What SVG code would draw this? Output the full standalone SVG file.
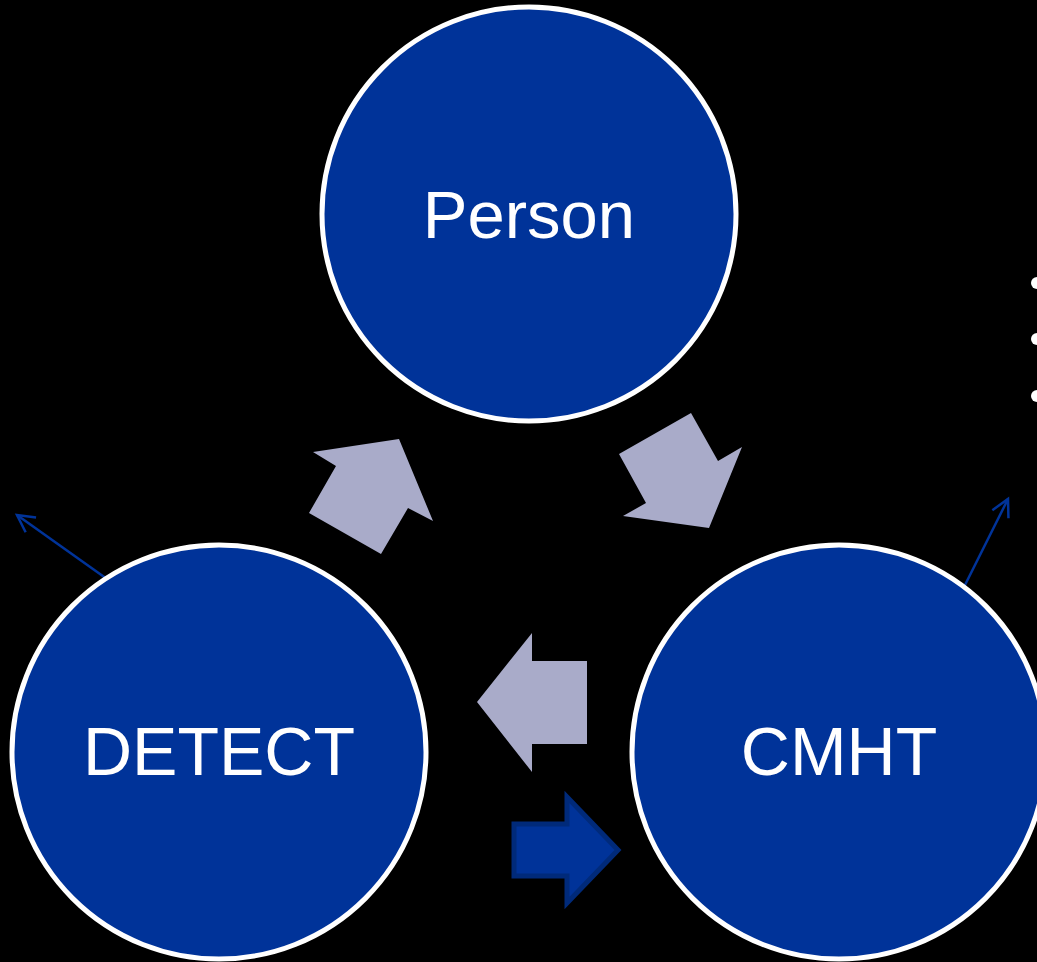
<svg xmlns="http://www.w3.org/2000/svg" width="1037" height="962" viewBox="0 0 1037 962">
<defs>
<style>
.node circle{fill:#003399;stroke:#ffffff;stroke-width:5}
.node text{font-family:"Liberation Sans",Arial,sans-serif;font-size:68px;fill:#ffffff;text-anchor:middle}
.big{fill:#a9abc9}
.blue{fill:#003399;stroke:#002a7a;stroke-width:5;stroke-linejoin:miter}
.thin{stroke:#003399;stroke-width:2.5;fill:none}
</style>
<marker id="open" viewBox="0 0 24 30" refX="20" refY="15" markerWidth="24" markerHeight="30" markerUnits="userSpaceOnUse" orient="auto">
<path d="M3,6 L20,15 L3,24" fill="none" stroke="#003399" stroke-width="2.5"/>
</marker>
</defs>
<rect width="1037" height="962" fill="#000000"/>
<g id="connectors">
<polygon class="big" points="313,452 399,439 433,521 408,508 381,554 309,513 336,466"/>
<polygon class="big" points="691,413 718,461 742,447 709,528 623,516 646,503 619,454"/>
<polygon class="big" points="532,633 532,661 587,661 587,744 532,744 532,772 477,702"/>
<polygon class="blue" points="514,824 567,824 567,797 618,850 567,903 567,876 514,876"/>
<line class="thin" x1="107" y1="579" x2="17" y2="515" marker-end="url(#open)"/>
<line class="thin" x1="964" y1="587" x2="1008" y2="499" marker-end="url(#open)"/>
</g>
<g id="bullets" fill="#ffffff">
<circle cx="1037" cy="283" r="6"/>
<circle cx="1037" cy="339" r="6"/>
<circle cx="1037" cy="396" r="6"/>
</g>
<g id="person" class="node">
<circle cx="529" cy="214" r="207"/>
<text x="529" y="238" style="font-size:67px">Person</text>
</g>
<g id="detect" class="node">
<circle cx="219" cy="752" r="207"/>
<text x="219" y="775">DETECT</text>
</g>
<g id="cmht" class="node">
<circle cx="839" cy="752" r="207"/>
<text x="839" y="775">CMHT</text>
</g>
</svg>
